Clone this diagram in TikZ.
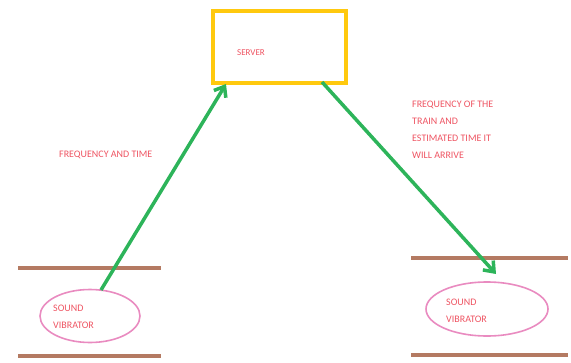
\documentclass[tikz,border=0pt]{standalone}
\usepackage{fontspec}
\setmainfont{Carlito}
\usetikzlibrary{arrows.meta,shapes.geometric}
\definecolor{paintgold}{HTML}{FFC90E}
\definecolor{paintgreen}{HTML}{2DB45A}
\definecolor{paintbrown}{HTML}{B47A62}
\definecolor{paintpink}{HTML}{E98BC0}
\definecolor{labelred}{HTML}{EE5462}
\tikzset{
  label text/.style={text=labelred, font=\fontsize{10}{17}\selectfont, inner sep=0pt, anchor=west, align=left},
  ground/.style={draw=paintbrown, line width=3.5pt},
  vibrator/.style={draw=paintpink, line width=1.6pt, ellipse, minimum width=100pt, minimum height=53pt},
  link/.style={draw=paintgreen, line width=3.5pt, -{Straight Barb[length=9pt,width=14pt,line width=3.5pt]}},
  serverbox/.style={draw=paintgold, line width=3.5pt, minimum width=133pt, minimum height=72pt, inner sep=0pt}
}
\begin{document}
\begin{tikzpicture}[x=1pt,y=-1pt]
  \useasboundingbox (0,0) rectangle (571,362);
  % server
  \node[serverbox] (server) at (279.5,47) {};
  \node[label text, font=\fontsize{9}{17}\selectfont] (servertxt) at (237,53) {SERVER};
  % left vibrator between two ground lines
  \coordinate (l1a) at (18,268); \coordinate (l1b) at (161,268);
  \coordinate (l2a) at (18,356); \coordinate (l2b) at (161,356);
  \draw[ground] (l1a) -- (l1b);
  \draw[ground] (l2a) -- (l2b);
  \node[vibrator] (vibl) at (90,316) {};
  \node[label text] (vibltxt) at (53,316.5) {SOUND\\VIBRATOR};
  % right vibrator between two ground lines
  \coordinate (r1a) at (411,258); \coordinate (r1b) at (568,258);
  \coordinate (r2a) at (411,355); \coordinate (r2b) at (568,355);
  \draw[ground] (r1a) -- (r1b);
  \draw[ground] (r2a) -- (r2b);
  \node[vibrator, minimum width=122pt, minimum height=54pt] (vibr) at (487,309) {};
  \node[label text] (vibrtxt) at (446,311) {SOUND\\VIBRATOR};
  % connectors
  \coordinate (lstart) at (101,290);
  \coordinate (lend) at (226,84);
  \draw[link] (lstart) -- (lend);
  \coordinate (rstart) at (322,82);
  \coordinate (rend) at (496,274);
  \draw[link] (rstart) -- (rend);
  % labels
  \node[label text] (freqtime) at (59,155) {FREQUENCY AND TIME};
  \node[label text, anchor=north west] (freqtrain) at (412,101) {FREQUENCY OF THE\\TRAIN AND\\ESTIMATED TIME IT\\WILL ARRIVE};
\end{tikzpicture}
\end{document}
